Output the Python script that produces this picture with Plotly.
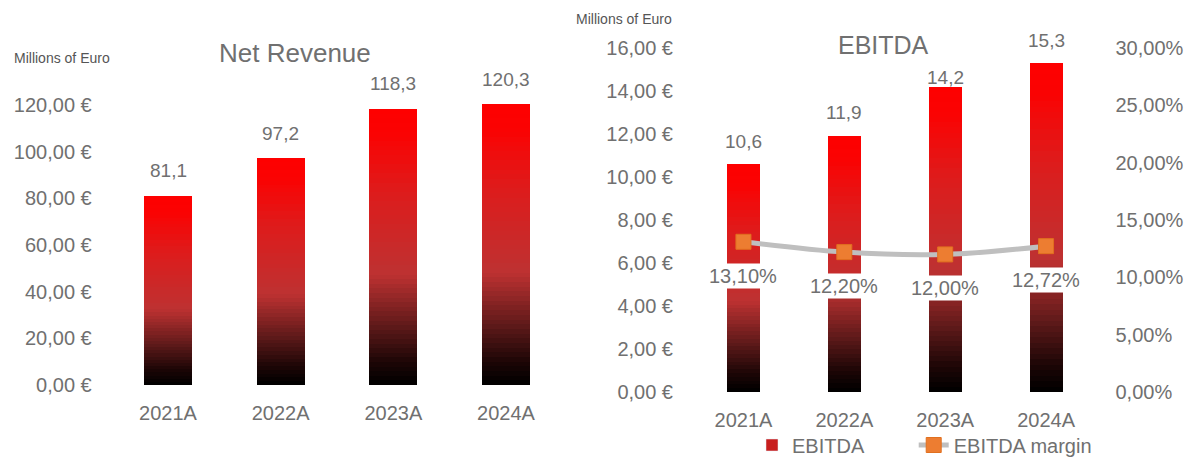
import numpy as np
import plotly.graph_objects as go

# ---------------- data ----------------
years = ["2021A", "2022A", "2023A", "2024A"]
net_revenue = [81.1, 97.2, 118.3, 120.3]
ebitda = [10.6, 11.9, 14.2, 15.3]
ebitda_margin = [0.1310, 0.1220, 0.1200, 0.1272]
rev_ticks = [0, 20, 40, 60, 80, 100, 120]
ebitda_ticks = [0, 2, 4, 6, 8, 10, 12, 14, 16]
margin_ticks = [0.0, 0.05, 0.10, 0.15, 0.20, 0.25, 0.30]

# ---------------- style ----------------
W, H = 1187, 457
FONT = "Liberation Sans"
TXT = "#707070"
EURO = "\u20ac"
N_LAYERS = 60

stop_pos = [0.0, 0.08, 0.2, 0.4, 0.7, 0.9, 1.0]
stop_rgb = [(0, 0, 0), (28, 6, 6), (88, 24, 24), (190, 50, 50),
            (222, 28, 28), (250, 4, 4), (255, 0, 0)]


def grad(f):
    r = np.interp(f, stop_pos, [c[0] for c in stop_rgb])
    g = np.interp(f, stop_pos, [c[1] for c in stop_rgb])
    b = np.interp(f, stop_pos, [c[2] for c in stop_rgb])
    return f"rgb({int(r)},{int(g)},{int(b)})"


def px_x(p):
    return p / W


def px_y(p):
    return (H - p) / H


def fmt(v, d):
    return f"{v:.{d}f}".replace(".", ",")


fig = go.Figure()


def gradient_bars(values, xa, ya, width):
    # each bar is split into N equal stacked slices, coloured bottom (black) -> top (red)
    vals = np.array(values, dtype=float)
    for i in range(N_LAYERS):
        fig.add_trace(go.Bar(
            x=years, y=vals / N_LAYERS, xaxis=xa, yaxis=ya, width=width,
            marker=dict(color=grad((i + 0.5) / N_LAYERS), line=dict(width=0)),
            showlegend=False, hoverinfo="skip"))


gradient_bars(net_revenue, "x", "y", 0.426)
gradient_bars(ebitda, "x2", "y2", 0.327)

# legend-only entry for the EBITDA bars
fig.add_trace(go.Bar(x=[None], y=[None], xaxis="x2", yaxis="y2",
                     name="EBITDA" + "\u00a0" * 8,
                     marker=dict(color="#C81E1E"), showlegend=True))

fig.add_trace(go.Scatter(
    x=years, y=ebitda_margin, xaxis="x2", yaxis="y3", name="EBITDA margin",
    mode="lines+markers",
    line=dict(color="#BFBFBF", width=5, shape="spline"),
    marker=dict(symbol="square", size=15, color="#ED7D31",
                line=dict(color="#E0701F", width=1)),
    hoverinfo="skip"))

ann = []
for x, v in zip(years, net_revenue):
    ann.append(dict(x=x, y=v, xref="x", yref="y", text=fmt(v, 1), showarrow=False,
                    yanchor="middle", yshift=25,
                    font=dict(family=FONT, size=19, color=TXT)))
ebitda_shift = [23, 24, 9, 23]
for x, v, s in zip(years, ebitda, ebitda_shift):
    ann.append(dict(x=x, y=v, xref="x2", yref="y2", text=fmt(v, 1), showarrow=False,
                    yanchor="middle", yshift=s,
                    font=dict(family=FONT, size=19, color=TXT)))
for x, v in zip(years, ebitda_margin):
    ann.append(dict(x=x, y=v, xref="x2", yref="y3", text=fmt(v * 100, 2) + "%",
                    showarrow=False, yanchor="middle", yshift=-34,
                    bgcolor="white", borderpad=1,
                    font=dict(family=FONT, size=20, color=TXT)))

# titles and unit labels
ann += [
    dict(x=px_x(295), y=px_y(53), xref="paper", yref="paper", text="Net Revenue",
         showarrow=False, xanchor="center", yanchor="middle",
         font=dict(family=FONT, size=26, color=TXT)),
    dict(x=px_x(883), y=px_y(45), xref="paper", yref="paper", text="EBITDA",
         showarrow=False, xanchor="center", yanchor="middle",
         font=dict(family=FONT, size=25, color=TXT)),
    dict(x=px_x(12), y=px_y(58), xref="paper", yref="paper", text="Millions of Euro",
         showarrow=False, xanchor="left", yanchor="middle",
         font=dict(family=FONT, size=14, color="#555555")),
    dict(x=px_x(574), y=px_y(19), xref="paper", yref="paper", text="Millions of Euro",
         showarrow=False, xanchor="left", yanchor="middle",
         font=dict(family=FONT, size=14, color="#555555")),
]

axis_common = dict(showgrid=False, zeroline=False, showline=False, ticks="",
                   tickfont=dict(family=FONT, size=20, color=TXT))

fig.update_layout(
    width=W, height=H,
    margin=dict(l=0, r=0, t=0, b=0, autoexpand=False),
    paper_bgcolor="white", plot_bgcolor="white",
    separators=",.",
    barmode="stack",
    annotations=ann,
    showlegend=True,
    legend=dict(orientation="h", x=px_x(752), y=px_y(445), xanchor="left",
                yanchor="middle", traceorder="normal",
                font=dict(family=FONT, size=20, color=TXT),
                bgcolor="rgba(0,0,0,0)"),
    xaxis=dict(domain=[px_x(111.7), px_x(562.3)], anchor="y",
               ticklabelstandoff=14, **axis_common),
    yaxis=dict(domain=[px_y(385), px_y(58.3)], anchor="x", range=[0, 140],
               tickvals=rev_ticks,
               ticktext=[fmt(t, 2) + " " + EURO for t in rev_ticks],
               ticklabelstandoff=19, **axis_common),
    xaxis2=dict(domain=[px_x(693), px_x(1096.5)], anchor="y2",
                ticklabelstandoff=14, **axis_common),
    yaxis2=dict(domain=[px_y(392), px_y(48)], anchor="x2", range=[0, 16],
                tickvals=ebitda_ticks,
                ticktext=[fmt(t, 2) + " " + EURO for t in ebitda_ticks],
                ticklabelstandoff=19, **axis_common),
    yaxis3=dict(overlaying="y2", side="right", anchor="x2", range=[0, 0.30],
                tickvals=margin_ticks,
                ticktext=[fmt(t * 100, 2) + "%" for t in margin_ticks],
                ticklabelstandoff=18, **axis_common),
)

fig.write_html("out.html")
